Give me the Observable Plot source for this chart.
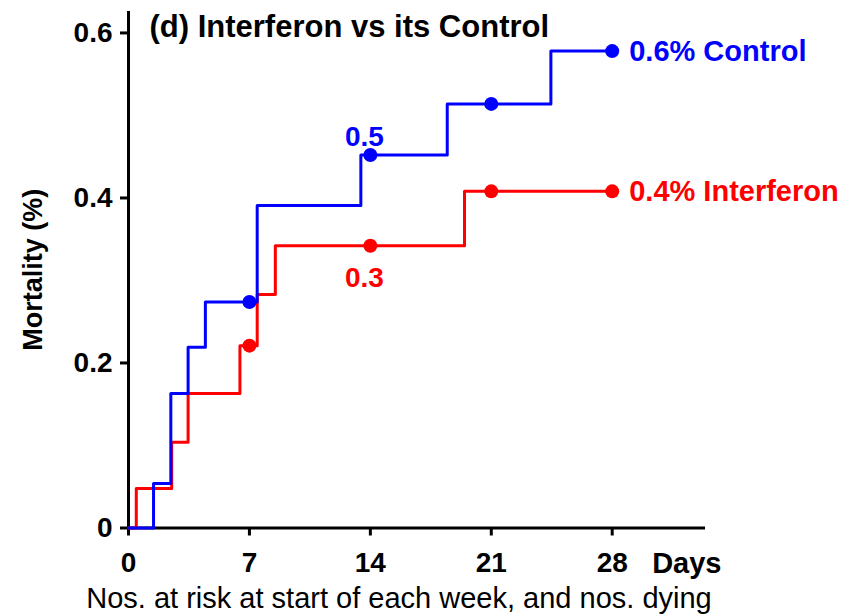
<!DOCTYPE html>
<html>
<head>
<meta charset="utf-8">
<script src="https://cdn.jsdelivr.net/npm/d3@7"></script>
<script src="https://cdn.jsdelivr.net/npm/@observablehq/plot@0.6"></script>
<style>
  body { margin: 0; background: #ffffff; }
  #chart { width: 858px; height: 616px; }
</style>
</head>
<body>
<div id="chart"></div>
<script>
// Step curves (day of step, cumulative mortality %)
const controlDays = [0, 1.45, 2.45, 3.45, 4.45, 7.45, 13.45, 18.45, 24.45, 28];
const controlMortality = [0, 0.054, 0.163, 0.219, 0.274, 0.391, 0.452, 0.514, 0.578, 0.578];
const interferonDays = [0, 0.45, 2.5, 3.45, 6.45, 7.45, 8.5, 19.45, 28];
const interferonMortality = [0, 0.048, 0.104, 0.163, 0.221, 0.283, 0.342, 0.408, 0.408];

// Weekly markers
const weekDays = [7, 14, 21, 28];
const controlWeekly = [0.274, 0.452, 0.514, 0.578];
const interferonWeekly = [0.221, 0.342, 0.408, 0.408];

// Annotations
const day14Labels = ["0.5", "0.3"];
const endLabels = ["0.6% Control", "0.4% Interferon"];
const titleText = "(d) Interferon vs its Control";
const yLabelText = "Mortality (%)";
const xLabelText = "Days";
const footerText = "Nos. at risk at start of each week, and nos. dying";

// Ticks
const xTicks = [0, 7, 14, 21, 28];
const yTicks = [0, 0.2, 0.4, 0.6];
const yTickLabels = ["0", "0.2", "0.4", "0.6"];

const BLUE = "#0000ff", RED = "#ff0000";

const control = controlDays.map((d, i) => ({day: d, m: controlMortality[i]}));
const interferon = interferonDays.map((d, i) => ({day: d, m: interferonMortality[i]}));
const cWeek = weekDays.map((d, i) => ({day: d, m: controlWeekly[i]}));
const iWeek = weekDays.map((d, i) => ({day: d, m: interferonWeekly[i]}));

const chart = Plot.plot({
  width: 858,
  height: 616,
  marginLeft: 128,
  marginRight: 153,
  marginTop: 11,
  marginBottom: 88.5,
  style: {fontFamily: "'Liberation Sans', Arial, Helvetica, sans-serif", fontSize: "28px", fontWeight: "bold", background: "#fff", color: "#000"},
  x: {domain: [0, 33.4], axis: null},
  y: {domain: [0, 0.626], axis: null},
  marks: [
    Plot.ruleX([0], {stroke: "#000", strokeWidth: 3}),
    Plot.ruleY([0], {stroke: "#000", strokeWidth: 3}),
    Plot.axisX(xTicks, {anchor: "bottom", tickSize: 8, tickPadding: 16, strokeWidth: 3, stroke: "#000", fill: "#000", label: null, fontSize: 28, tickFormat: d => String(d)}),
    Plot.axisY(yTicks, {anchor: "left", tickSize: 8, tickPadding: 8, strokeWidth: 3, stroke: "#000", fill: "#000", label: null, fontSize: 28, tickFormat: d => yTickLabels[yTicks.indexOf(d)]}),
    Plot.line(interferon, {x: "day", y: "m", curve: "step-after", stroke: RED, strokeWidth: 3}),
    Plot.line(control, {x: "day", y: "m", curve: "step-after", stroke: BLUE, strokeWidth: 3}),
    Plot.dot(iWeek, {x: "day", y: "m", r: 7, fill: RED, stroke: "none"}),
    Plot.dot(cWeek, {x: "day", y: "m", r: 7, fill: BLUE, stroke: "none"}),
    Plot.text([day14Labels[0]], {x: () => weekDays[1], y: () => controlWeekly[1], fill: BLUE, lineAnchor: "top", dx: -6, dy: -29, fontSize: 28}),
    Plot.text([day14Labels[1]], {x: () => weekDays[1], y: () => interferonWeekly[1], fill: RED, lineAnchor: "top", dx: -6, dy: 21, fontSize: 28}),
    Plot.text([endLabels[0]], {x: () => weekDays[3], y: () => controlWeekly[3], fill: BLUE, textAnchor: "start", lineAnchor: "top", dx: 17, dy: -11, fontSize: 29}),
    Plot.text([endLabels[1]], {x: () => weekDays[3], y: () => interferonWeekly[3], fill: RED, textAnchor: "start", lineAnchor: "top", dx: 17, dy: -11, fontSize: 29}),
    Plot.text([titleText], {frameAnchor: "top-left", textAnchor: "start", lineAnchor: "top", dx: 21, dy: 3, fill: "#000", fontSize: 31}),
    Plot.text([yLabelText], {frameAnchor: "left", rotate: -90, textAnchor: "middle", lineAnchor: "middle", dx: -95, fill: "#000", fontSize: 27}),
    Plot.text([xLabelText], {frameAnchor: "bottom-right", textAnchor: "end", lineAnchor: "top", dx: 16, dy: 24, fill: "#000", fontSize: 29}),
    Plot.text([footerText], {frameAnchor: "bottom", textAnchor: "middle", lineAnchor: "top", dx: -18, dy: 59, fill: "#000", fontSize: 29, fontWeight: "normal"})
  ]
});
document.getElementById("chart").appendChild(chart);
</script>
</body>
</html>
